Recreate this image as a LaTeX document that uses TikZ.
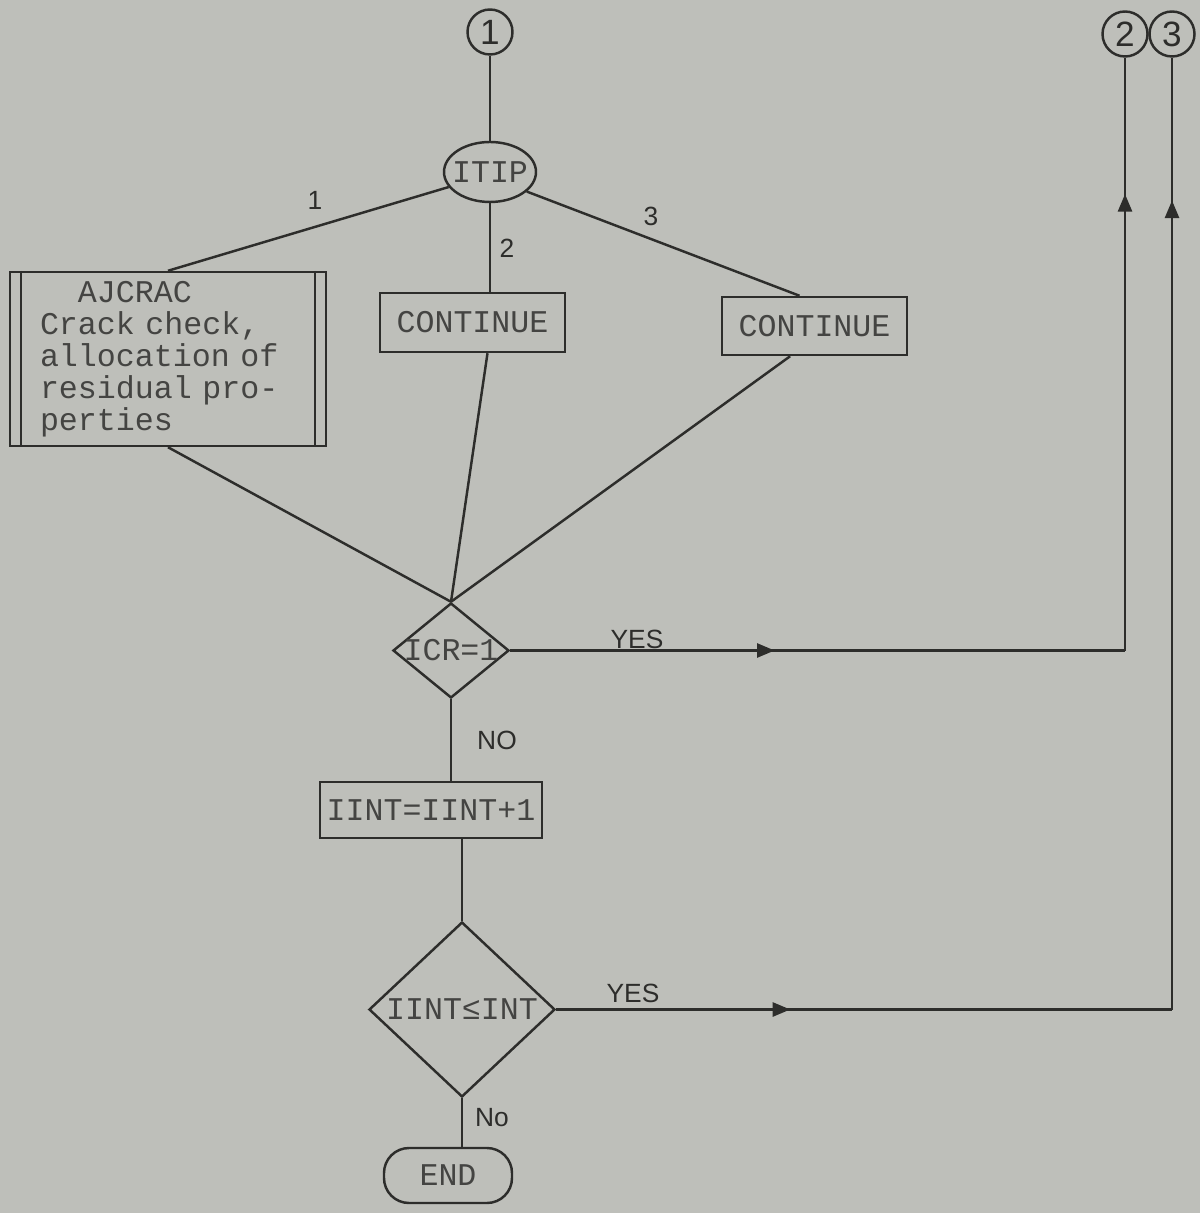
\documentclass[tikz,border=0pt]{standalone}
\usepackage{fontspec}
\newfontfamily\typefont{Liberation Mono}
\newfontfamily\handfont{Liberation Sans}
\usetikzlibrary{calc, shapes.geometric, arrows.meta, decorations.markings}
\definecolor{paper}{RGB}{190,191,186}
\definecolor{ink}{RGB}{45,45,43}
\definecolor{typeink}{RGB}{68,68,66}
% typewriter text: one full character cell per space
\newcommand{\typeset}{\typefont\fontsize{9}{9.1}\selectfont
  \spaceskip=5.4pt\relax\xspaceskip=5.4pt\relax}

\begin{document}
\begin{tikzpicture}[color=ink, line width=0.7pt,
  box/.style={draw, rectangle, inner sep=0pt, text=typeink, font=\typeset},
  sel/.style={draw, ellipse, inner sep=0pt, minimum width=0.92cm, minimum height=0.60cm},
  dec/.style={draw, diamond, inner sep=0pt},
  term/.style={box, rounded corners=0.25cm, minimum width=1.28cm, minimum height=0.55cm},
  conn/.style={draw, circle, minimum size=0.45cm, inner sep=0pt,
    font=\handfont\fontsize{10}{10}\selectfont},
  lbl/.style={inner sep=0pt, font=\handfont\fontsize{7.5}{7.5}\selectfont},
  every label/.style={inner sep=0pt, text=typeink, font=\typeset},
  midarrow/.style={postaction={decorate, decoration={markings,
    mark=at position #1 with {\arrow{Triangle[length=5pt, width=4pt]}}}}}]

  % paper and frame
  \fill[paper] (0,0) rectangle (12,-12.13);
  \useasboundingbox (0,0) rectangle (12,-12.13);

  % connectors
  \node[conn] (con1) at (4.90,-0.32) {1};
  \node[conn] (con2) at (11.25,-0.34) {2};
  \node[conn] (con3) at (11.72,-0.34) {3};

  % ITIP switch and its three branches
  \node[sel, label=center:ITIP] (itip) at (4.90,-1.72) {};
  \node[box, text width=2.56cm, align=left, minimum width=3.16cm, minimum height=1.74cm]
    (ajcrac) at (1.68,-3.59) {\phantom{xx}AJCRAC\\Crack check,\\allocation of\\residual pro-\\perties};
  \draw ($(ajcrac.north west)+(0.12,0)$) -- ($(ajcrac.south west)+(0.12,0)$);
  \draw ($(ajcrac.north east)+(-0.12,0)$) -- ($(ajcrac.south east)+(-0.12,0)$);
  \node[box, minimum width=1.85cm, minimum height=0.59cm] (cont2) at (4.725,-3.225) {CONTINUE};
  \node[box, minimum width=1.85cm, minimum height=0.58cm] (cont3) at (8.145,-3.26) {CONTINUE};

  % checks
  \node[dec, minimum width=1.16cm, minimum height=0.95cm, label=center:{ICR=1}] (icr) at (4.51,-6.505) {};
  \node[box, minimum width=2.22cm, minimum height=0.56cm] (iint) at (4.31,-8.10) {IINT=IINT+1};
  \node[dec, minimum width=1.86cm, minimum height=1.75cm, label=center:{IINT≤INT}] (incr) at (4.62,-10.095) {};
  \node[term] (fin) at (4.48,-11.755) {END};

  \coordinate (jn) at (icr.north);
  \coordinate (k2) at (con2.south |- icr.east);
  \coordinate (k3) at (con3.south |- incr.east);

  % lines
  \draw (con1) -- (itip);
  \draw (itip.200) -- (ajcrac.north);
  \draw (itip.south) -- (itip.south |- cont2.north);
  \draw (itip.-28) -- ($(cont3.north west)!0.42!(cont3.north east)$);
  \draw (ajcrac.south) -- (jn);
  \draw ($(cont2.south west)!0.58!(cont2.south east)$) -- (jn);
  \draw ($(cont3.south west)!0.37!(cont3.south east)$) -- (jn);
  \draw[midarrow=0.43] (icr.east) -- (k2);
  \draw[midarrow=0.77] (k2) -- (con2.south);
  \draw (icr.south) -- (icr.south |- iint.north);
  \draw (incr.north |- iint.south) -- (incr.north);
  \draw[midarrow=0.38] (incr.east) -- (k3);
  \draw[midarrow=0.85] (k3) -- (con3.south);
  \draw (incr.south) -- (incr.south |- fin.north);

  % branch labels
  \node[lbl] (l1) at (3.15,-2.00) {1};
  \node[lbl] (l2) at (5.07,-2.48) {2};
  \node[lbl] (l3) at (6.51,-2.16) {3};
  \node[lbl] (y1) at (6.37,-6.39) {YES};
  \node[lbl] (n1) at (4.97,-7.40) {NO};
  \node[lbl] (y2) at (6.33,-9.93) {YES};
  \node[lbl] (n2) at (4.92,-11.18) {No};
\end{tikzpicture}
\end{document}
